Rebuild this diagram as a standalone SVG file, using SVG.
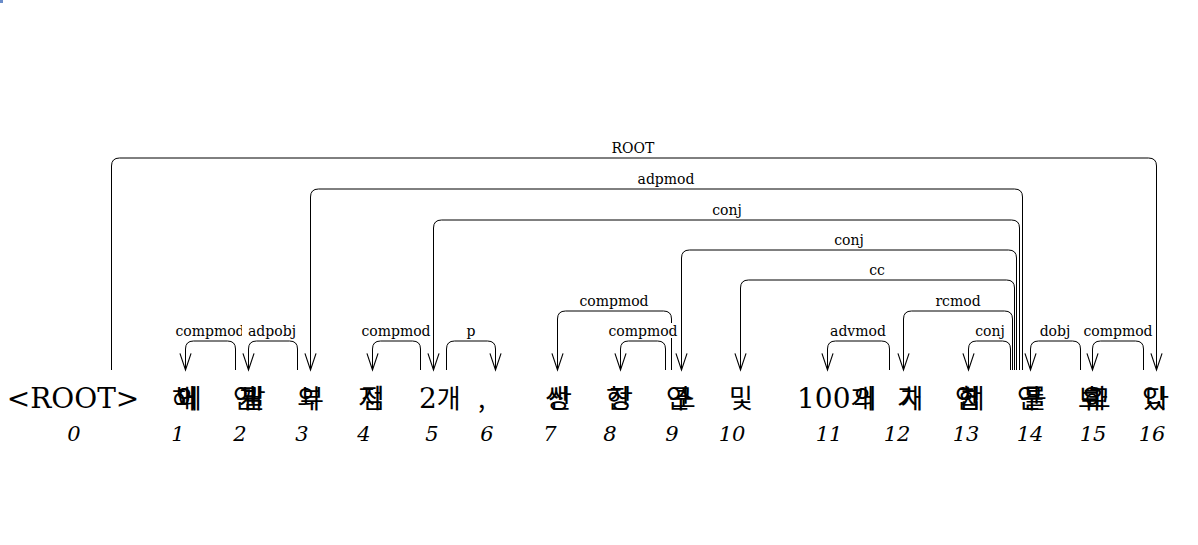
<svg xmlns="http://www.w3.org/2000/svg" width="1198" height="545" viewBox="0 0 1198 545">
<style>
.arc{fill:none;stroke:#000;stroke-width:1}
.lbl{font-family:"DejaVu Serif",serif;font-size:14px;text-anchor:middle;fill:#000}
.bg{fill:#fff}
.w{font-family:"DejaVu Serif","Noto Sans CJK KR",serif;font-size:28px;fill:#000}
.ko{font-family:"Noto Sans CJK KR","DejaVu Sans",sans-serif;font-size:26px;letter-spacing:-21px}
.cm{font-family:"Noto Sans CJK KR","DejaVu Sans",sans-serif;font-size:26px}
.idx{font-family:"DejaVu Serif",serif;font-style:italic;font-size:21px;text-anchor:middle;fill:#000}
</style>
<defs>
<marker id="ah" markerUnits="userSpaceOnUse" orient="auto" refX="0" refY="0" markerWidth="20" markerHeight="20" viewBox="-16 -8 18 16" overflow="visible">
<path d="M-15,-5 L0,0 L-15,5" fill="none" stroke="#000" stroke-width="1"/>
</marker>
</defs>
<rect x="0" y="0" width="3" height="3" fill="#6a8cc9"/>

<g id="connectors">
<path class="arc" marker-end="url(#ah)" d="M235.5,370 V349 Q235.5,341 227.5,341 H193.5 Q185.5,341 185.5,349 V370"/>
<path class="arc" marker-end="url(#ah)" d="M297.5,370 V349 Q297.5,341 289.5,341 H256.5 Q248.5,341 248.5,349 V370"/>
<path class="arc" marker-end="url(#ah)" d="M420.5,370 V349 Q420.5,341 412.5,341 H380.5 Q372.5,341 372.5,349 V370"/>
<path class="arc" marker-end="url(#ah)" d="M446.5,370 V349 Q446.5,341 454.5,341 H487.5 Q495.5,341 495.5,349 V370"/>
<path class="arc" marker-end="url(#ah)" d="M665.5,370 V349 Q665.5,341 657.5,341 H628.5 Q620.5,341 620.5,349 V370"/>
<path class="arc" marker-end="url(#ah)" d="M889.5,370 V349 Q889.5,341 881.5,341 H835.5 Q827.5,341 827.5,349 V370"/>
<path class="arc" marker-end="url(#ah)" d="M1010.5,370 V349 Q1010.5,341 1002.5,341 H976.5 Q968.5,341 968.5,349 V370"/>
<path class="arc" marker-end="url(#ah)" d="M1080.5,370 V349 Q1080.5,341 1072.5,341 H1038.5 Q1030.5,341 1030.5,349 V370"/>
<path class="arc" marker-end="url(#ah)" d="M1143.5,370 V349 Q1143.5,341 1135.5,341 H1100.5 Q1092.5,341 1092.5,349 V370"/>
<path class="arc" marker-end="url(#ah)" d="M671.5,370 V319 Q671.5,311 663.5,311 H565.5 Q557.5,311 557.5,319 V370"/>
<path class="arc" marker-end="url(#ah)" d="M1012.5,370 V319 Q1012.5,311 1004.5,311 H911.5 Q903.5,311 903.5,319 V370"/>
<path class="arc" marker-end="url(#ah)" d="M1014.5,370 V288 Q1014.5,280 1006.5,280 H748.5 Q740.5,280 740.5,288 V370"/>
<path class="arc" marker-end="url(#ah)" d="M1016.5,370 V258 Q1016.5,250 1008.5,250 H689.5 Q681.5,250 681.5,258 V370"/>
<path class="arc" marker-end="url(#ah)" d="M1019.5,370 V228 Q1019.5,220 1011.5,220 H441.5 Q433.5,220 433.5,228 V370"/>
<path class="arc" marker-end="url(#ah)" d="M1022.5,370 V197 Q1022.5,189 1014.5,189 H318.5 Q310.5,189 310.5,197 V370"/>
<path class="arc" marker-end="url(#ah)" d="M111.5,370 V166 Q111.5,158 119.5,158 H1148.5 Q1156.5,158 1156.5,166 V370"/>

<rect class="bg" x="173" y="323" width="74" height="15"/><text class="lbl" x="210" y="336">compmod</text>
<rect class="bg" x="242" y="323" width="60" height="15"/><text class="lbl" x="272" y="336">adpobj</text>
<rect class="bg" x="359" y="323" width="74" height="15"/><text class="lbl" x="396" y="336">compmod</text>
<rect class="bg" x="464" y="323" width="14" height="15"/><text class="lbl" x="471" y="336">p</text>
<rect class="bg" x="606" y="323" width="74" height="15"/><text class="lbl" x="643" y="336">compmod</text>
<rect class="bg" x="828" y="323" width="60" height="15"/><text class="lbl" x="858" y="336">advmod</text>
<rect class="bg" x="974" y="323" width="34" height="15"/><text class="lbl" x="990" y="336">conj</text>
<rect class="bg" x="1037" y="323" width="36" height="15"/><text class="lbl" x="1055" y="336">dobj</text>
<rect class="bg" x="1081" y="323" width="74" height="15"/><text class="lbl" x="1118" y="336">compmod</text>
<rect class="bg" x="577" y="293" width="74" height="15"/><text class="lbl" x="614" y="306">compmod</text>
<rect class="bg" x="933" y="293" width="50" height="15"/><text class="lbl" x="958" y="306">rcmod</text>
<rect class="bg" x="867" y="262" width="20" height="15"/><text class="lbl" x="877" y="275">cc</text>
<rect class="bg" x="833" y="232" width="34" height="15"/><text class="lbl" x="849" y="245">conj</text>
<rect class="bg" x="711" y="202" width="34" height="15"/><text class="lbl" x="727" y="215">conj</text>
<rect class="bg" x="636" y="171" width="60" height="15"/><text class="lbl" x="666" y="184">adpmod</text>
<rect class="bg" x="610" y="140" width="46" height="15"/><text class="lbl" x="633" y="153">ROOT</text>
</g>

<g id="n0"><text class="w" x="73" y="408" text-anchor="middle">&lt;ROOT&gt;</text><text class="idx" x="74" y="441">0</text></g>
<g id="n1"><text class="w" x="172" y="408"><tspan class="ko">해외에</tspan></text><text class="idx" x="178" y="441">1</text></g>
<g id="n2"><text class="w" x="233" y="408"><tspan class="ko">연구개발</tspan></text><text class="idx" x="240" y="441">2</text></g>
<g id="n3"><text class="w" x="297" y="408"><tspan class="ko">외부</tspan></text><text class="idx" x="302" y="441">3</text></g>
<g id="n4"><text class="w" x="358" y="408"><tspan class="ko">지점</tspan></text><text class="idx" x="364" y="441">4</text></g>
<g id="n5"><text class="w" x="419" y="408">2<tspan class="cm">개</tspan></text><text class="idx" x="432" y="441">5</text></g>
<g id="n6"><text class="w" x="478" y="408"><tspan class="cm">,</tspan></text><text class="idx" x="487" y="441">6</text></g>
<g id="n7"><text class="w" x="545" y="408"><tspan class="ko">생산</tspan></text><text class="idx" x="550" y="441">7</text></g>
<g id="n8"><text class="w" x="606" y="408"><tspan class="ko">현장</tspan></text><text class="idx" x="610" y="441">8</text></g>
<g id="n9"><text class="w" x="666" y="408"><tspan class="ko">연구소</tspan></text><text class="idx" x="672" y="441">9</text></g>
<g id="n10"><text class="w" x="729" y="408"><tspan class="cm">및</tspan></text><text class="idx" x="732" y="441">10</text></g>
<g id="n11"><text class="w" x="797" y="408">100<tspan class="ko">개의</tspan></text><text class="idx" x="829" y="441">11</text></g>
<g id="n12"><text class="w" x="897" y="408"><tspan class="ko">가치</tspan></text><text class="idx" x="897" y="441">12</text></g>
<g id="n13"><text class="w" x="955" y="408"><tspan class="ko">연합체</tspan></text><text class="idx" x="966" y="441">13</text></g>
<g id="n14"><text class="w" x="1017" y="408"><tspan class="ko">연구를</tspan></text><text class="idx" x="1030" y="441">14</text></g>
<g id="n15"><text class="w" x="1078" y="408"><tspan class="ko">보유하고</tspan></text><text class="idx" x="1093" y="441">15</text></g>
<g id="n16"><text class="w" x="1142" y="408"><tspan class="ko">있다</tspan></text><text class="idx" x="1152" y="441">16</text></g>
</svg>
